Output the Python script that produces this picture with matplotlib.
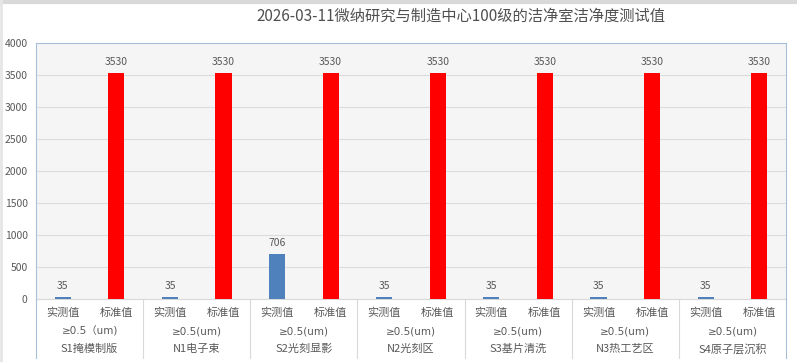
import numpy as np
import matplotlib
matplotlib.use("Agg")
import matplotlib.pyplot as plt
from matplotlib.transforms import blended_transform_factory, ScaledTranslation

plt.rcParams['font.family'] = ['Noto Sans CJK SC', 'DejaVu Sans']

title = "2026-03-11微纳研究与制造中心100级的洁净室洁净度测试值"
stations = ["S1掩模制版", "N1电子束", "S2光刻显影", "N2光刻区", "S3基片清洗", "N3热工艺区", "S4原子层沉积"]
sizes = ["≥0.5（um)", "≥0.5(um)", "≥0.5(um)", "≥0.5(um)", "≥0.5(um)", "≥0.5(um)", "≥0.5(um)"]
kinds = ["实测值", "标准值"]
measured = [35, 35, 706, 35, 35, 35, 35]
standard = [3530, 3530, 3530, 3530, 3530, 3530, 3530]
yticks = [0, 500, 1000, 1500, 2000, 2500, 3000, 3500, 4000]

txt = "#595959"
fig = plt.figure(figsize=(7.97, 3.62), dpi=100)
ax = fig.add_axes([36 / 797, 1 - 299 / 362, 750 / 797, 256 / 362])
ax.set_facecolor("#f5f5f5")

n = len(stations)
xm = np.arange(n) * 2
xs = np.arange(n) * 2 + 1
ax.bar(xm, measured, width=0.3, color="#4f81bd", zorder=3)
ax.bar(xs, standard, width=0.3, color="#ff0000", zorder=3)

for x, v in zip(xm, measured):
    ax.text(x, v + 90, str(v), ha="center", va="bottom", fontsize=7.5, color=txt)
for x, v in zip(xs, standard):
    ax.text(x, v + 90, str(v), ha="center", va="bottom", fontsize=7.5, color=txt)

ax.set_xlim(-0.5, 2 * n - 0.5)
ax.set_ylim(0, 4000)
ax.set_yticks(yticks)
ax.tick_params(axis="y", length=0, labelsize=7.5, labelcolor=txt, pad=6)
ax.set_xticks([])
ax.grid(axis="y", color="#dcdcdc", linewidth=0.8, zorder=0)
for s in ["left", "top", "right"]:
    ax.spines[s].set_color("#a9bfd9")
ax.spines["bottom"].set_color("#d9d9d9")

# multi-level category axis
tr = blended_transform_factory(ax.transData, ax.transAxes)
def off(px):
    return tr + ScaledTranslation(0, -px / 100, fig.dpi_scale_trans)

for i in range(n):
    ax.text(xm[i], 0, kinds[0], transform=off(14), ha="center", va="center", fontsize=8, color=txt)
    ax.text(xs[i], 0, kinds[1], transform=off(14), ha="center", va="center", fontsize=8, color=txt)
    ax.text(2 * i + 0.5, 0, sizes[i], transform=off(32), ha="center", va="center", fontsize=7.5,
            color=txt, family=['DejaVu Sans', 'Noto Sans CJK SC'])
    ax.text(2 * i + 0.5, 0, stations[i], transform=off(50), ha="center", va="center", fontsize=8, color=txt)

for i in range(n + 1):
    xpix = (36 + 750 * i / n) / 797
    color = "#a9bfd9" if i in (0, n) else "#d9d9d9"
    fig.add_artist(plt.Line2D([xpix, xpix], [1 - 358 / 362, 1 - 299 / 362], color=color, linewidth=0.8))

fig.text(461 / 797, 1 - 16 / 362, title, ha="center", va="center", fontsize=11, color="#505050")

# outer frame strips
fig.add_artist(plt.Line2D([0, 1], [1 - 1.5 / 362, 1 - 1.5 / 362], color="#d9d9d9", linewidth=3))
fig.add_artist(plt.Line2D([1 / 797, 1 / 797], [0, 1], color="#e6e6e6", linewidth=2))

fig.savefig("out.png", dpi=100)
